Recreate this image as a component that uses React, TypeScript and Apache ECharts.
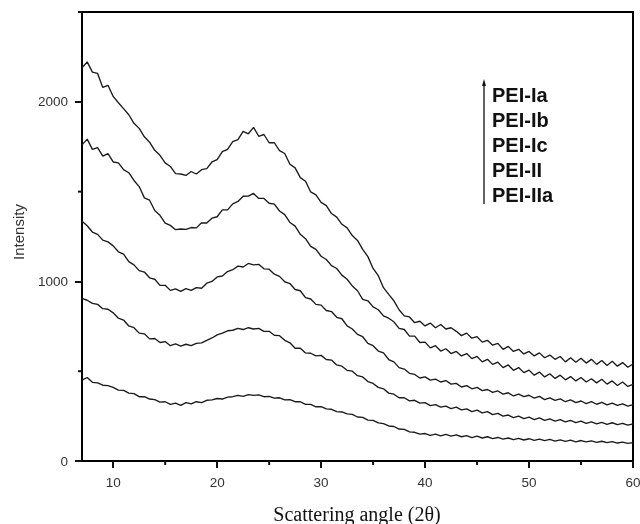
import React, { useEffect, useRef } from "react";
import * as echarts from "echarts";

// Scattering angle grid (2θ, degrees)
const ANGLES = [
  7, 7.5, 8, 8.5, 9, 9.5, 10, 10.5, 11, 11.5,
  12, 12.5, 13, 13.5, 14, 14.5, 15, 15.5, 16, 16.5,
  17, 17.5, 18, 18.5, 19, 19.5, 20, 20.5, 21, 21.5,
  22, 22.5, 23, 23.5, 24, 24.5, 25, 25.5, 26, 26.5,
  27, 27.5, 28, 28.5, 29, 29.5, 30, 30.5, 31, 31.5,
  32, 32.5, 33, 33.5, 34, 34.5, 35, 35.5, 36, 36.5,
  37, 37.5, 38, 38.5, 39, 39.5, 40, 40.5, 41, 41.5,
  42, 42.5, 43, 43.5, 44, 44.5, 45, 45.5, 46, 46.5,
  47, 47.5, 48, 48.5, 49, 49.5, 50, 50.5, 51, 51.5,
  52, 52.5, 53, 53.5, 54, 54.5, 55, 55.5, 56, 56.5,
  57, 57.5, 58, 58.5, 59, 59.5, 60,
];

const PEI_IA = [
  2190, 2222, 2165, 2158, 2080, 2092, 2030, 1995, 1962, 1928,
  1880, 1852, 1805, 1775, 1730, 1702, 1660, 1640, 1600, 1598,
  1590, 1612, 1598, 1622, 1628, 1665, 1678, 1722, 1735, 1778,
  1790, 1835, 1822, 1858, 1808, 1818, 1772, 1772, 1728, 1712,
  1652, 1632, 1578, 1558, 1498, 1482, 1440, 1422, 1378, 1358,
  1318, 1298, 1255, 1228, 1178, 1138, 1072, 1032, 965, 928,
  892, 842, 808, 802, 770, 778, 752, 768, 742, 760,
  735, 742, 722, 698, 712, 684, 692, 662, 672, 645,
  655, 622, 638, 610, 622, 596, 610, 585, 602, 575,
  590, 566, 582, 552, 575, 550, 572, 545, 566, 538,
  560, 532, 555, 528, 548, 522, 540,
];

const PEI_IB = [
  1760, 1792, 1735, 1745, 1698, 1712, 1665, 1660, 1622, 1605,
  1562, 1528, 1465, 1452, 1395, 1368, 1325, 1312, 1288, 1292,
  1290, 1300, 1298, 1326, 1325, 1352, 1360, 1398, 1398, 1432,
  1445, 1474, 1475, 1490, 1462, 1462, 1435, 1430, 1392, 1372,
  1328, 1308, 1262, 1238, 1195, 1178, 1140, 1122, 1088, 1072,
  1035, 1012, 975, 948, 900, 892, 858, 842, 808, 795,
  775, 738, 732, 695, 695, 660, 662, 630, 642, 612,
  625, 598, 610, 585, 598, 570, 582, 552, 566, 538,
  550, 520, 535, 505, 520, 492, 506, 478, 495, 468,
  486, 460, 478, 452, 470, 446, 465, 440, 458, 435,
  455, 428, 446, 420, 440, 415, 426,
];

const PEI_IC = [
  1335, 1310, 1275, 1262, 1230, 1220, 1198, 1165, 1152, 1110,
  1092, 1060, 1052, 1020, 1012, 978, 978, 950, 958, 945,
  960, 950, 965, 962, 990, 1000, 1025, 1030, 1055, 1065,
  1085, 1080, 1100, 1092, 1095, 1070, 1068, 1040, 1028, 998,
  988, 955, 948, 910, 902, 872, 868, 838, 832, 800,
  792, 752, 735, 705, 692, 655, 642, 612, 602, 565,
  552, 520, 512, 488, 482, 462, 468, 450, 456, 440,
  448, 428, 432, 412, 420, 402, 410, 392, 398, 382,
  390, 372, 380, 362, 372, 358, 366, 350, 360, 342,
  352, 338, 346, 330, 340, 325, 334, 320, 330, 316,
  326, 312, 322, 310, 318, 306, 314,
];

const PEI_II = [
  905, 895, 878, 872, 848, 845, 825, 795, 785, 752,
  742, 712, 708, 680, 682, 660, 665, 642, 652, 640,
  650, 642, 655, 658, 672, 685, 702, 712, 725, 728,
  738, 732, 742, 735, 738, 722, 722, 700, 698, 672,
  658, 628, 628, 602, 600, 585, 588, 565, 562, 535,
  528, 505, 500, 475, 468, 442, 432, 410, 402, 378,
  372, 352, 352, 335, 338, 322, 325, 308, 314, 300,
  306, 292, 300, 285, 290, 275, 283, 268, 275, 258,
  265, 250, 256, 242, 250, 236, 244, 230, 240, 226,
  234, 222, 230, 218, 226, 214, 222, 210, 218, 207,
  215, 204, 213, 202, 210, 200, 207,
];

const PEI_IIA = [
  450, 465, 438, 435, 422, 420, 410, 395, 393, 378,
  375, 358, 358, 345, 342, 328, 330, 315, 322, 310,
  325, 318, 330, 325, 338, 340, 348, 345, 356, 358,
  365, 360, 370, 365, 368, 358, 360, 350, 352, 340,
  342, 330, 330, 315, 315, 302, 303, 290, 288, 275,
  273, 262, 260, 245, 243, 228, 226, 212, 208, 195,
  192, 178, 176, 162, 160, 150, 153, 143, 150, 140,
  148, 138, 145, 135, 141, 130, 138, 128, 135, 125,
  131, 122, 128, 119, 126, 117, 124, 115, 122, 113,
  120, 111, 118, 109, 116, 107, 114, 106, 112, 104,
  110, 102, 108, 100, 105, 98, 102,
];

const SERIES_NAMES = ["PEI-Ia", "PEI-Ib", "PEI-Ic", "PEI-II", "PEI-IIa"];
const SERIES_VALUES = [PEI_IA, PEI_IB, PEI_IC, PEI_II, PEI_IIA];

const X_MIN = 7;
const X_MAX = 60;
const Y_MIN = 0;
const Y_MAX = 2500;
const X_MAJOR_TICKS = [10, 20, 30, 40, 50, 60];
const X_MINOR_TICKS = [15, 25, 35, 45, 55];
const Y_MAJOR_TICKS = [0, 1000, 2000];
const Y_MINOR_TICKS = [500, 1500, 2500];

const X_TITLE = "Scattering angle (2θ)";
const Y_TITLE = "Intensity";

function tickSeries(values: number[], len: number, horizontal: boolean) {
  return {
    type: "custom",
    coordinateSystem: "cartesian2d",
    silent: true,
    clip: false,
    z: 5,
    data: values.map((v) => (horizontal ? [X_MIN, v] : [v, Y_MIN])),
    renderItem: (_p: any, api: any) => {
      const pt = api.coord([api.value(0), api.value(1)]);
      return {
        type: "line",
        shape: horizontal
          ? { x1: pt[0] - len, y1: pt[1], x2: pt[0], y2: pt[1] }
          : { x1: pt[0], y1: pt[1], x2: pt[0], y2: pt[1] + len },
        style: { stroke: "#111", lineWidth: 2 },
      };
    },
  };
}

export default function App() {
  const ref = useRef<HTMLDivElement>(null);

  useEffect(() => {
    if (!ref.current) return;
    const chart = echarts.init(ref.current, undefined, { renderer: "svg" });

    const lineSeries = SERIES_NAMES.map((name, s) => ({
      name,
      type: "line",
      data: ANGLES.map((a, i) => [a, SERIES_VALUES[s][i]]),
      showSymbol: false,
      symbol: "none",
      lineStyle: { color: "#1a1a1a", width: 1.35 },
      itemStyle: { color: "#1a1a1a" },
      silent: true,
    }));

    const labelFont = {
      fontFamily: "'Liberation Sans', Arial, sans-serif",
      fontSize: 13.5,
      color: "#333",
    };

    const legendTexts = SERIES_NAMES.map((name, i) => ({
      type: "text",
      x: 492,
      y: 95 + i * 24.9,
      style: {
        text: name,
        fontFamily: "'Liberation Sans', Arial, sans-serif",
        fontSize: 20,
        fontWeight: "bold",
        fill: "#111",
        align: "left",
        verticalAlign: "middle",
      },
    }));

    chart.setOption({
      animation: false,
      grid: {
        left: 82,
        right: 7,
        top: 12,
        bottom: 63,
        show: true,
        borderColor: "#000",
        borderWidth: 2,
        outerBoundsMode: "none",
      },
      xAxis: {
        type: "value",
        min: X_MIN,
        max: X_MAX,
        axisLine: { show: false },
        axisTick: {
          show: true,
          length: 7,
          customValues: X_MAJOR_TICKS,
          lineStyle: { color: "#111", width: 2 },
        },
        axisLabel: {
          ...labelFont,
          margin: 14,
          customValues: X_MAJOR_TICKS,
          formatter: (v: number) => String(v),
        },
        splitLine: { show: true, lineStyle: { color: "rgba(0,0,0,0)" } },
      },
      yAxis: {
        type: "value",
        min: Y_MIN,
        max: Y_MAX,
        axisLine: { show: false },
        axisTick: {
          show: true,
          length: 7,
          customValues: Y_MAJOR_TICKS,
          lineStyle: { color: "#111", width: 2 },
        },
        axisLabel: {
          ...labelFont,
          margin: 14,
          customValues: Y_MAJOR_TICKS,
          formatter: (v: number) => String(v),
        },
        splitLine: { show: true, lineStyle: { color: "rgba(0,0,0,0)" } },
      },
      graphic: [
        {
          type: "text",
          x: 18,
          y: 232,
          rotation: Math.PI / 2,
          style: {
            text: Y_TITLE,
            fontFamily: "'Liberation Sans', Arial, sans-serif",
            fontSize: 15,
            fill: "#333",
            align: "center",
            verticalAlign: "middle",
          },
        },
        {
          type: "text",
          x: 357,
          y: 514,
          style: {
            text: X_TITLE,
            fontFamily: "'Liberation Serif', 'Times New Roman', serif",
            fontSize: 20,
            fill: "#111",
            align: "center",
            verticalAlign: "middle",
          },
        },
        {
          type: "line",
          shape: { x1: 484, y1: 204, x2: 484, y2: 83 },
          style: { stroke: "#111", lineWidth: 1.3 },
        },
        {
          type: "polygon",
          shape: { points: [[484, 79], [482, 86], [486, 86]] },
          style: { fill: "#111" },
        },
        ...legendTexts,
      ],
      series: [
        ...lineSeries,
        tickSeries(X_MINOR_TICKS, 4, false),
        tickSeries(Y_MINOR_TICKS, 4, true),
      ],
    });

    return () => {
      chart.dispose();
    };
  }, []);

  return <div ref={ref} style={{ position: "fixed", left: 0, top: 0, width: 640, height: 524 }} />;
}
